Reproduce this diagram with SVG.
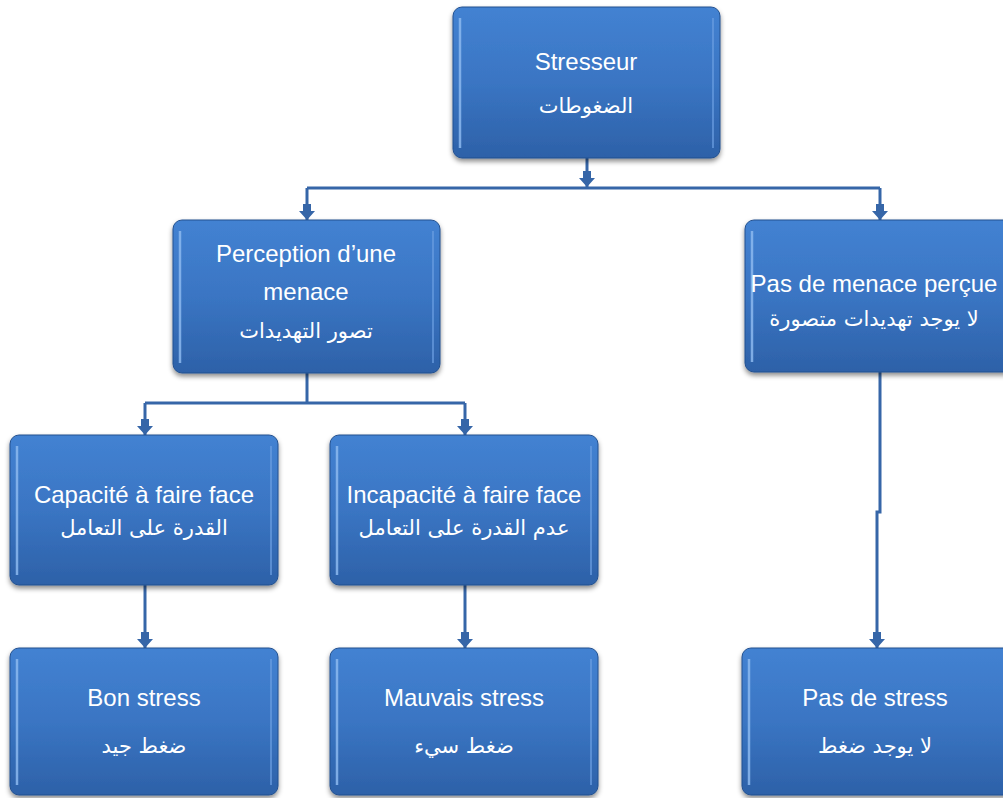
<svg xmlns="http://www.w3.org/2000/svg" width="1003" height="798" viewBox="0 0 1003 798">
<style>
  .box { fill: url(#bg); stroke: #22508f; stroke-width: 1; filter: url(#sh); }
  .hl { fill: none; stroke: #8cb8ee; stroke-width: 2.5; stroke-opacity: 0.85; }
  .hr { fill: none; stroke: #6a9ddf; stroke-width: 2; stroke-opacity: 0.7; }
  .lat { font-family: "Liberation Sans", Arial, sans-serif; font-size: 24px; fill: #ffffff; text-anchor: middle; }
  .ar { font-family: "DejaVu Sans", "Noto Sans", sans-serif; font-size: 21px; fill: #ffffff; text-anchor: middle; }
  .con { fill: none; stroke: #3666a8; stroke-width: 3; }
  .arr { fill: none; stroke: #3666a8; stroke-width: 3; marker-end: url(#ah); }
</style>
<defs>
  <linearGradient id="bg" x1="0" y1="0" x2="0" y2="1">
    <stop offset="0" stop-color="#4382d2"/>
    <stop offset="0.5" stop-color="#3a75c3"/>
    <stop offset="1" stop-color="#2d61a8"/>
  </linearGradient>
  <filter id="sh" x="-10%" y="-10%" width="120%" height="125%">
    <feDropShadow dx="0" dy="3" stdDeviation="2.5" flood-color="#000000" flood-opacity="0.45"/>
  </filter>
  <marker id="ah" markerUnits="userSpaceOnUse" viewBox="-17 -9 18 18" refX="0" refY="0" markerWidth="18" markerHeight="18" orient="auto">
    <path d="M-16,-4 L-9,-4 L-9,-8 L0,0 L-9,8 L-9,4 L-16,4 Z" fill="#3666a8"/>
  </marker>
</defs>

<g id="connectors">
  <path class="arr" d="M587,158 L587,187"/>
  <path class="con" d="M307,188 L880,188"/>
  <path class="arr" d="M307,188 L307,220"/>
  <path class="arr" d="M880,188 L880,220"/>
  <path class="con" d="M307,373 L307,403"/>
  <path class="con" d="M145,403 L465,403"/>
  <path class="arr" d="M145,403 L145,435"/>
  <path class="arr" d="M465,403 L465,435"/>
  <path class="arr" d="M145,585 L145,648"/>
  <path class="arr" d="M465,585 L465,648"/>
  <path class="arr" d="M880,372 L880,512 L877,512 L877,648"/>
</g>

<g id="n-stresseur">
  <rect class="box" x="453" y="7" width="267" height="151" rx="9"/>
  <path class="hl" d="M460,18 L460,148"/>
  <path class="hr" d="M713,18 L713,148"/>
  <text class="lat" x="586" y="70">Stresseur</text>
  <text class="ar" x="586" y="113">الضغوطات</text>
</g>

<g id="n-perception">
  <rect class="box" x="173" y="220" width="267" height="153" rx="9"/>
  <path class="hl" d="M180,231 L180,363"/>
  <path class="hr" d="M433,231 L433,363"/>
  <text class="lat" x="306" y="262">Perception d’une</text>
  <text class="lat" x="306" y="300">menace</text>
  <text class="ar" x="306" y="338">تصور التهديدات</text>
</g>

<g id="n-pasmenace">
  <rect class="box" x="745" y="220" width="270" height="152" rx="9"/>
  <path class="hl" d="M752,231 L752,362"/>
  <text class="lat" x="874" y="292">Pas de menace perçue</text>
  <text class="ar" x="874" y="326">لا يوجد تهديدات متصورة</text>
</g>

<g id="n-capacite">
  <rect class="box" x="10" y="435" width="268" height="150" rx="9"/>
  <path class="hl" d="M17,446 L17,575"/>
  <path class="hr" d="M271,446 L271,575"/>
  <text class="lat" x="144" y="503">Capacité à faire face</text>
  <text class="ar" x="144" y="535">القدرة على التعامل</text>
</g>

<g id="n-incapacite">
  <rect class="box" x="330" y="435" width="268" height="150" rx="9"/>
  <path class="hl" d="M337,446 L337,575"/>
  <path class="hr" d="M591,446 L591,575"/>
  <text class="lat" x="464" y="503">Incapacité à faire face</text>
  <text class="ar" x="464" y="535">عدم القدرة على التعامل</text>
</g>

<g id="n-bon">
  <rect class="box" x="10" y="648" width="268" height="147" rx="9"/>
  <path class="hl" d="M17,659 L17,785"/>
  <path class="hr" d="M271,659 L271,785"/>
  <text class="lat" x="144" y="706">Bon stress</text>
  <text class="ar" x="144" y="753">ضغط جيد</text>
</g>

<g id="n-mauvais">
  <rect class="box" x="330" y="648" width="268" height="147" rx="9"/>
  <path class="hl" d="M337,659 L337,785"/>
  <path class="hr" d="M591,659 L591,785"/>
  <text class="lat" x="464" y="706">Mauvais stress</text>
  <text class="ar" x="464" y="753">ضغط سيء</text>
</g>

<g id="n-passtress">
  <rect class="box" x="742" y="648" width="272" height="147" rx="9"/>
  <path class="hl" d="M749,659 L749,785"/>
  <text class="lat" x="875" y="706">Pas de stress</text>
  <text class="ar" x="875" y="753">لا يوجد ضغط</text>
</g>
</svg>
